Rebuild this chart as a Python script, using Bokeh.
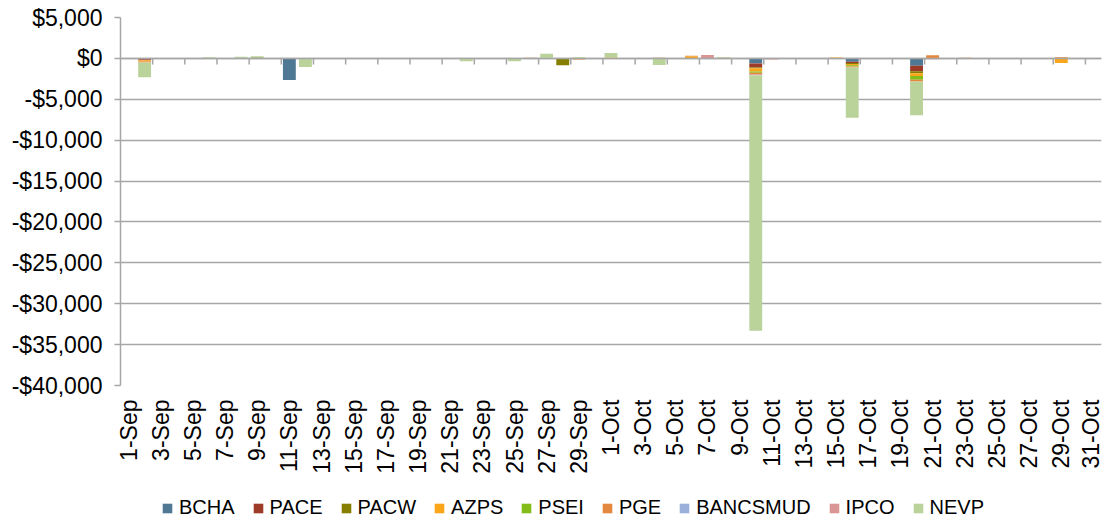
import numpy as np
from bokeh.plotting import figure
from bokeh.layouts import column
from bokeh.models import (Range1d, FixedTicker, CustomJSTickFormatter, Span,
                          Legend, LegendItem, ColumnDataSource)
from bokeh.embed import file_html
from bokeh.resources import INLINE

# ---------------- data ----------------
dates = [f"{d}-Sep" for d in range(1, 31)] + [f"{d}-Oct" for d in range(1, 32)]

series = ["BCHA", "PACE", "PACW", "AZPS", "PSEI", "PGE", "BANCSMUD", "IPCO", "NEVP"]
colors = ["#4F7894", "#9E3A28", "#857E00", "#FAA51A", "#84BD19", "#E4883F",
          "#9BB0DA", "#D99694", "#B9D39A"]

BCHA = [0, -120, 0, 0, 0, 0, 0, 0, 0, 0,
        -2650, 0, 0, 0, 0, 0, 0, 0, 0, 0,
        0, 0, 0, 0, 0, 0, 0, 0, 0, 0,
        0, 0, 0, 0, 0, 0, 0, 0, 0, -610,
        0, 0, 0, 0, 0, -400, 0, 0, 0, -890,
        0, 0, 0, 0, 0, 0, 0, 0, 0, 0,
        0]
PACE = [0, -120, 0, 0, 0, 0, 0, 0, 0, 0,
        0, 0, 0, 0, 0, 0, 0, 0, 0, 0,
        0, 0, 0, 0, 0, 0, 0, 0, 0, 0,
        0, 0, 0, 0, 0, 0, 0, 0, 0, -490,
        0, 0, 0, 0, 0, -160, 0, 0, 0, -690,
        0, 0, 0, 0, 0, 0, 0, 0, 0, 0,
        0]
PACW = [0, 0, 40, 0, 0, 50, 0, 0, 120, 0,
        0, 0, 30, 30, 0, 0, 0, 0, 0, 0,
        -40, 0, 0, 0, -60, 0, 80, -850, 0, 30,
        0, 0, 0, 0, 0, 0, 0, 80, 40, -120,
        0, 0, 30, 0, 40, -120, 0, 0, 0, -240,
        0, 0, 0, 0, 0, 0, 0, 0, 0, 0,
        0]
AZPS = [0, -150, 0, 0, 0, 0, 0, 0, 0, 0,
        0, 0, 0, 0, 0, 0, 0, 0, 30, 0,
        0, -40, 0, 0, 0, 40, 0, 0, 0, 0,
        100, 0, 0, 0, 0, 250, 0, 0, 0, -370,
        0, 0, 0, 0, 60, -160, 0, 0, 0, -330,
        0, 0, 30, 0, 0, 0, 0, 0, -550, 0,
        0]
PSEI = [0, 0, 0, 0, 0, 0, 0, 0, 0, 0,
        0, 0, 0, 0, 0, 0, 0, 0, 30, 0,
        0, 0, 0, 0, 0, 0, 0, 0, 0, 0,
        0, 0, 0, 0, 0, 0, 0, 0, 0, -160,
        0, 0, 0, 0, 0, -160, 0, 0, 0, -450,
        0, 0, 0, 0, 0, 0, 0, 0, 0, 0,
        0]
PGE = [0, -120, 0, 0, 0, 0, 0, 0, 0, 0,
       0, -50, 0, 0, 0, 0, 0, 0, 0, 0,
       0, -60, 0, 0, 0, 30, 0, 0, -150, 0,
       0, 0, 0, 80, 0, 80, 0, 0, 0, -180,
       0, 0, 0, 30, 0, -120, 0, 0, 0, -240,
       380, 0, 60, 0, 0, 0, 0, 0, 150, 0,
       0]
BANCSMUD = [0, 0, 0, 0, 0, 0, 0, 0, 0, 0,
            0, 0, 0, 0, 0, 0, 0, 0, 0, 0,
            0, 0, 0, 0, 0, 0, 0, 0, 0, 0,
            0, 0, 0, 0, 0, 0, 0, 0, 0, 0,
            0, 0, 0, 0, 0, 0, 0, 0, 0, 0,
            0, 0, 0, 0, 0, 0, 0, 0, 0, 0,
            0]
IPCO = [0, 0, 0, 0, 0, 0, 0, 0, 0, 0,
        0, 0, 0, 0, 0, 0, 0, 0, 0, 0,
        0, 0, 0, 0, 0, 0, 0, 0, 0, 0,
        0, 0, 0, 0, 0, 0, 400, 0, 0, -120,
        -150, 0, 0, 0, 0, 0, -40, 0, 0, 0,
        -100, 0, 0, 0, 0, 0, 0, 0, 0, 0,
        0]
NEVP = [0, -1800, 0, 0, 0, 100, 0, 200, 130, 0,
        0, -1000, 0, 0, 0, 0, 0, 0, 0, 0,
        0, -250, 0, 0, -300, 0, 500, 0, 150, 0,
        550, 0, 0, -800, 0, 0, 0, 70, 0, -31250,
        0, 0, 0, 0, 0, -6130, 0, 0, 0, -4100,
        0, 0, 0, 0, 0, 0, 0, 0, 0, 0,
        0]

values = [BCHA, PACE, PACW, AZPS, PSEI, PGE, BANCSMUD, IPCO, NEVP]

y_ticks = [5000, 0, -5000, -10000, -15000, -20000, -25000, -30000, -35000, -40000]
y_labels = ["$5,000", "$0", "-$5,000", "-$10,000", "-$15,000", "-$20,000",
            "-$25,000", "-$30,000", "-$35,000", "-$40,000"]

# ---------------- source ----------------
n = len(dates)
data = {"x": np.arange(n) + 0.5}
pos_cols, neg_cols = [], []
for name, vals in zip(series, values):
    arr = np.array(vals, dtype=float)
    data[name + "_pos"] = np.maximum(arr, 0)
    data[name + "_neg"] = np.minimum(arr, 0)
    pos_cols.append(name + "_pos")
    neg_cols.append(name + "_neg")
src = ColumnDataSource(data)

FONT = "Liberation Sans"
GRAY = "#A6A6A6"
FRAME_H = 368
W = 1103

p = figure(frame_width=981, frame_height=FRAME_H,
           x_range=Range1d(0, n), y_range=Range1d(y_ticks[-1], y_ticks[0]),
           output_backend="svg", toolbar_location=None,
           min_border_left=120, min_border_top=17, min_border_right=2,
           min_border_bottom=106)
p.outline_line_color = None
p.background_fill_color = "white"
p.border_fill_color = "white"

r_pos = p.vbar_stack(pos_cols, x="x", width=0.8, color=colors, line_color=None, source=src)
r_neg = p.vbar_stack(neg_cols, x="x", width=0.8, color=colors, line_color=None, source=src)

# zero axis line with category tick marks
p.add_layout(Span(location=0, dimension="width", line_color=GRAY, line_width=1.5))
tick_len = 6 * (y_ticks[0] - y_ticks[-1]) / FRAME_H
bx = np.arange(2, n, 2)
p.segment(x0=bx, y0=np.zeros(len(bx)), x1=bx, y1=np.full(len(bx), -tick_len),
          line_color=GRAY, line_width=1.5)

# y axis
p.yaxis.ticker = FixedTicker(ticks=y_ticks)
p.yaxis.major_label_overrides = {t: l for t, l in zip(y_ticks, y_labels)}
p.yaxis.major_label_text_font = FONT
p.yaxis.major_label_text_font_size = "23px"
p.yaxis.major_label_text_color = "black"
p.yaxis.axis_line_color = GRAY
p.yaxis.axis_line_width = 1.5
p.yaxis.major_tick_line_color = GRAY
p.yaxis.major_tick_line_width = 1.5
p.yaxis.major_tick_out = 6
p.yaxis.major_tick_in = 0
p.yaxis.minor_tick_line_color = None
p.yaxis.major_label_standoff = 12
p.ygrid.ticker = FixedTicker(ticks=y_ticks)
p.ygrid.grid_line_color = GRAY
p.ygrid.grid_line_width = 1.3
p.xgrid.visible = False

# x axis (labels only, every other day)
p.xaxis.ticker = FixedTicker(ticks=list(np.arange(0, n, 2) + 0.5))
p.xaxis.formatter = CustomJSTickFormatter(args=dict(labels=dates),
                                          code="return labels[Math.floor(tick)];")
p.xaxis.major_label_orientation = np.pi / 2
p.xaxis.axis_line_color = None
p.xaxis.major_tick_line_color = None
p.xaxis.minor_tick_line_color = None
p.xaxis.major_label_text_font = FONT
p.xaxis.major_label_text_font_size = "23px"
p.xaxis.major_label_text_color = "black"
p.xaxis.major_label_standoff = 8

# ---------------- legend strip ----------------
# same stacked series drawn in a strip whose y range hides the bars; only the legend shows
leg = figure(width=W, height=28, x_range=Range1d(0, n), y_range=Range1d(1, 2),
             output_backend="svg", toolbar_location=None, min_border=0)
leg.axis.visible = False
leg.grid.visible = False
leg.outline_line_color = None
leg_renderers = leg.vbar_stack(neg_cols, x="x", width=0.8, color=colors,
                               line_color=None, source=src)
items = [LegendItem(label=s, renderers=[r]) for s, r in zip(series, leg_renderers)]
legend = Legend(items=items, orientation="horizontal", location=(41, 0),
                label_text_font=FONT, label_text_font_size="20px",
                label_text_color="black",
                glyph_width=12, glyph_height=12, label_standoff=6, spacing=17,
                border_line_color=None, background_fill_alpha=0,
                margin=0, padding=2)
leg.add_layout(legend)

open("out.html", "w").write(file_html(column(p, leg, spacing=0), INLINE))
